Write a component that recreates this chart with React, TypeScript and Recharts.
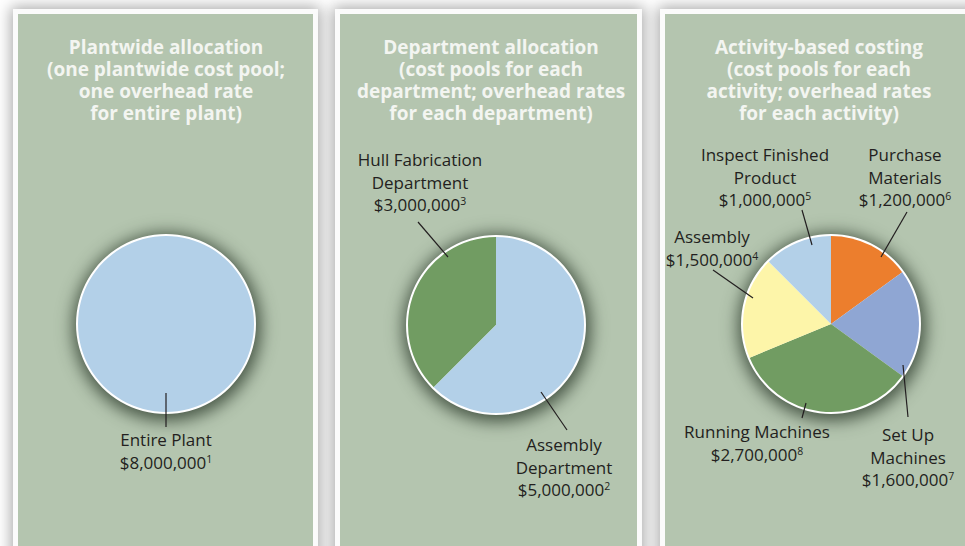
import { Cell, Pie, PieChart } from "recharts"

// panel 1 - plantwide
const plantNames = ["Entire Plant"]
const plantValues = [8000000]
const plantNotes = ["1"]

// panel 2 - departments
const deptNames = ["Hull Fabrication Department", "Assembly Department"]
const deptValues = [3000000, 5000000]
const deptNotes = ["3", "2"]

// panel 3 - activities (clockwise from 12 o'clock)
const activityNames = [
  "Purchase Materials",
  "Set Up Machines",
  "Running Machines",
  "Assembly",
  "Inspect Finished Product",
]
const activityValues = [1200000, 1600000, 2700000, 1500000, 1000000]
const activityNotes = ["6", "7", "8", "4", "5"]

const titles = [
  ["Plantwide allocation", "(one plantwide cost pool;", "one overhead rate", "for entire plant)"],
  ["Department allocation", "(cost pools for each", "department; overhead rates", "for each department)"],
  ["Activity-based costing", "(cost pools for each", "activity; overhead rates", "for each activity)"],
]

const FONT = "'Open Sans', 'Noto Sans', sans-serif"
const SAGE = "#b4c5af"
const LIGHT_BLUE = "#b3d0e8"
const GREEN = "#719c62"

const plantColors = [LIGHT_BLUE]
const deptColors = [GREEN, LIGHT_BLUE]
const activityColors = ["#ec7e2d", "#8fa6d3", GREEN, "#fdf5a9", LIGHT_BLUE]

// label layout: leader line points and text position, relative to pie centre
type LabelLayout = { p1: number[]; p2: number[]; t: number[]; lines: string[] }

const plantLayout: LabelLayout[] = [
  { p1: [0, 69], p2: [0, 103], t: [0, 116], lines: ["Entire Plant"] },
]
const deptLayout: LabelLayout[] = [
  { p1: [-48, -68], p2: [-78, -103], t: [-76, -165], lines: ["Hull Fabrication", "Department"] },
  { p1: [45, 67], p2: [71, 105], t: [68, 120], lines: ["Assembly", "Department"] },
]
const activityLayout: LabelLayout[] = [
  { p1: [50, -67], p2: [76, -112], t: [74, -169], lines: ["Purchase", "Materials"] },
  { p1: [72, 41], p2: [77, 93], t: [77, 111], lines: ["Set Up", "Machines"] },
  { p1: [-25, 79], p2: [-29, 94], t: [-74, 108], lines: ["Running Machines"] },
  { p1: [-78, -26], p2: [-118, -54], t: [-119, -87], lines: ["Assembly"] },
  { p1: [-19, -79], p2: [-29, -114], t: [-66, -169], lines: ["Inspect Finished", "Product"] },
]

const toRows = (names: string[], values: number[]) =>
  names.map((name, i) => ({ name, value: values[i] }))

const money = (v: number) => "$" + v.toLocaleString("en-US")

const makeLabel = (layout: LabelLayout[], values: number[], notes: string[]) => (props: any) => {
  const { cx, cy, index } = props
  const l = layout[index]
  const lineH = 22.5
  return (
    <g>
      <line
        x1={cx + l.p1[0]}
        y1={cy + l.p1[1]}
        x2={cx + l.p2[0]}
        y2={cy + l.p2[1]}
        stroke="#231f20"
        strokeWidth={1.2}
      />
      {l.lines.map((s, i) => (
        <text
          key={i}
          x={cx + l.t[0]}
          y={cy + l.t[1] + i * lineH + 6}
          textAnchor="middle"
          fill="#231f20"
          fontSize={17}
          fontFamily={FONT}
        >
          {s}
        </text>
      ))}
      <text
        x={cx + l.t[0]}
        y={cy + l.t[1] + l.lines.length * lineH + 6}
        textAnchor="middle"
        fill="#231f20"
        fontSize={17}
        fontFamily={FONT}
      >
        {money(values[index])}
        <tspan dy={-6} fontSize={10.5}>{notes[index]}</tspan>
      </text>
    </g>
  )
}

const R = 88

function PieGroup({
  cx,
  cy,
  names,
  values,
  notes,
  colors,
  layout,
  startAngle,
  endAngle,
}: {
  cx: number
  cy: number
  names: string[]
  values: number[]
  notes: string[]
  colors: string[]
  layout: LabelLayout[]
  startAngle: number
  endAngle: number
}) {
  const total = values.reduce((a, b) => a + b, 0)
  const whole = [{ name: "total", value: total }]
  return [
    <Pie
      key="shadow"
      className="pie-shadow"
      data={whole}
      dataKey="value"
      cx={cx + 1}
      cy={cy + 3}
      outerRadius={R + 6}
      fill="rgba(25,40,25,0.7)"
      stroke="none"
      isAnimationActive={false}
    />,
    <Pie
      key="rim"
      data={whole}
      dataKey="value"
      cx={cx}
      cy={cy}
      outerRadius={R + 2}
      fill="#ffffff"
      stroke="none"
      isAnimationActive={false}
    />,
    <Pie
      key="data"
      data={toRows(names, values)}
      dataKey="value"
      nameKey="name"
      cx={cx}
      cy={cy}
      outerRadius={R}
      startAngle={startAngle}
      endAngle={endAngle}
      stroke="none"
      labelLine={false}
      label={makeLabel(layout, values, notes)}
      isAnimationActive={false}
    >
      {names.map((n, i) => (
        <Cell key={n} fill={colors[i]} />
      ))}
    </Pie>,
  ]
}

const panels = [
  { left: 13, width: 305, center: 166 },
  { left: 335, width: 307, center: 491 },
  { left: 660, width: 320, center: 819 },
]

export default function App() {
  return (
    <div
      style={{
        position: "absolute",
        left: 0,
        top: 0,
        width: 965,
        height: 546,
        overflow: "hidden",
        background: "#ffffff",
      }}
    >
      <style>{`.pie-shadow { filter: blur(6px); }`}</style>
      {panels.map((p, i) => (
        <div
          key={i}
          style={{
            position: "absolute",
            left: p.left,
            top: 9,
            width: p.width,
            height: 580,
            boxSizing: "border-box",
            border: "5px solid #fbfbfb",
            background: SAGE,
            boxShadow: "0 0 14px 2px rgba(0,0,0,0.35)",
          }}
        />
      ))}
      {titles.map((t, i) => (
        <div
          key={i}
          style={{
            position: "absolute",
            left: panels[i].center - 160,
            top: 36,
            width: 320,
            textAlign: "center",
            fontFamily: FONT,
            fontWeight: 700,
            fontSize: 19,
            lineHeight: "22px",
            color: "#f3f5f1",
          }}
        >
          {t.map((s, j) => (
            <div key={j}>{s}</div>
          ))}
        </div>
      ))}
      <div style={{ position: "absolute", left: 0, top: 0 }}>
        <PieChart width={965} height={546} margin={{ top: 0, right: 0, bottom: 0, left: 0 }}>
          {PieGroup({
            cx: 166,
            cy: 324,
            names: plantNames,
            values: plantValues,
            notes: plantNotes,
            colors: plantColors,
            layout: plantLayout,
            startAngle: 90,
            endAngle: 450,
          })}
          {PieGroup({
            cx: 496,
            cy: 325,
            names: deptNames,
            values: deptValues,
            notes: deptNotes,
            colors: deptColors,
            layout: deptLayout,
            startAngle: 90,
            endAngle: 450,
          })}
          {PieGroup({
            cx: 831,
            cy: 324,
            names: activityNames,
            values: activityValues,
            notes: activityNotes,
            colors: activityColors,
            layout: activityLayout,
            startAngle: 90,
            endAngle: -270,
          })}
        </PieChart>
      </div>
    </div>
  )
}
